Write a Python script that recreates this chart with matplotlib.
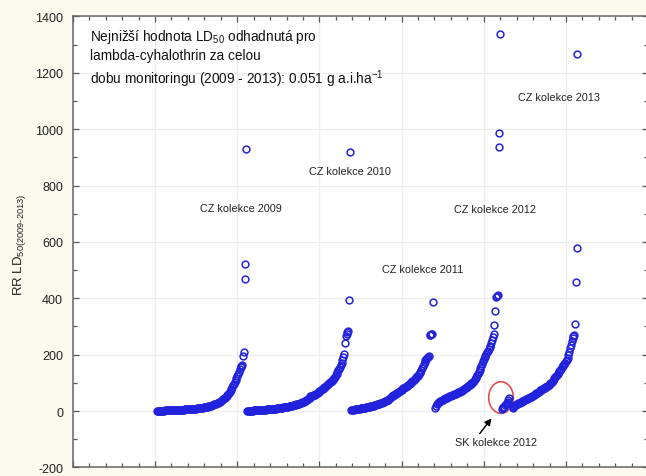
import matplotlib
matplotlib.use("Agg")
import matplotlib.pyplot as plt
import numpy as np
from matplotlib.patches import Ellipse
from matplotlib.ticker import MultipleLocator

plt.rcParams['font.family'] = ['Liberation Sans', 'DejaVu Sans']
plt.rcParams['mathtext.fontset'] = 'custom'
plt.rcParams['mathtext.rm'] = 'Liberation Sans'
plt.rcParams['mathtext.it'] = 'Liberation Sans:italic'
plt.rcParams['axes.unicode_minus'] = False

# poradi vzorku (prvni index kazde kolekce) a odhadnute hodnoty RR LD50
start_2009 = 102
rr_2009 = [0.5, 0.7, 0.9, 1.0, 1.2, 1.3, 1.5, 1.6, 1.8, 1.9,
           2.0, 2.2, 2.3, 2.5, 2.6, 2.8, 2.9, 3.0, 3.2, 3.3,
           3.5, 3.6, 3.8, 3.9, 4.1, 4.2, 4.4, 4.5, 4.7, 4.8,
           5.0, 5.1, 5.3, 5.4, 5.6, 5.7, 5.9, 6.0, 6.2, 6.3,
           6.5, 6.8, 7.0, 7.3, 7.5, 7.9, 8.2, 8.5, 8.9, 9.3,
           9.6, 10.1, 10.5, 11.0, 11.4, 11.9, 12.3, 12.8, 13.2, 13.8,
           14.2, 15.0, 15.8, 16.5, 17.3, 18.0, 19.1, 20.0, 21.2, 22.5,
           23.4, 24.6, 25.8, 27.0, 28.3, 30.0, 31.5, 33.0, 35.2, 37.5,
           40.0, 42.1, 44.5, 47.0, 50.2, 53.0, 56.5, 60.1, 64.0, 68.5,
           73.0, 79.0, 85.0, 92.0, 97.0, 104.0, 110.0, 116.0, 124.0, 131.0,
           140.0, 148.0, 155.0, 160.0, 162.0, 196.0, 208.0, 468.0, 520.0, 928.0]

start_2010 = 212
rr_2010 = [0.3, 0.6, 0.9, 1.1, 1.3, 1.5, 1.7, 1.9, 2.1, 2.3,
           2.5, 2.7, 2.9, 3.1, 3.3, 3.5, 3.7, 3.9, 4.1, 4.3,
           4.5, 4.7, 5.0, 5.3, 5.6, 5.8, 6.1, 6.4, 6.7, 7.0,
           7.3, 7.6, 7.9, 8.3, 8.6, 9.0, 9.4, 9.8, 10.2, 10.6,
           11.0, 11.4, 11.8, 12.2, 12.6, 13.0, 13.5, 14.0, 14.6, 15.2,
           15.8, 16.5, 17.2, 17.9, 18.6, 19.4, 20.1, 20.9, 21.8, 22.7,
           23.6, 24.5, 25.5, 26.5, 27.4, 28.5, 29.6, 30.8, 32.0, 33.4,
           35.0, 36.8, 38.5, 40.3, 42.0, 44.5, 47.5, 52.0, 54.0, 55.0,
           55.8, 56.5, 57.2, 58.0, 60.0, 62.5, 65.0, 67.8, 70.2, 72.5,
           74.8, 77.0, 79.5, 82.0, 84.5, 87.0, 89.5, 92.0, 95.0, 97.5,
           100.0, 102.0, 104.0, 107.0, 110.0, 114.0, 118.0, 122.0, 127.0, 132.0,
           138.0, 144.0, 150.0, 156.0, 162.0, 170.0, 180.0, 192.0, 203.0, 243.0,
           266.0, 274.0, 280.0, 284.0, 395.0, 918.0]

start_2011 = 339
rr_2011 = [2.5, 3.5, 4.5, 5.2, 5.8, 6.3, 6.8, 7.3, 7.8, 8.3,
           8.8, 9.3, 9.8, 10.3, 10.8, 11.3, 11.8, 12.4, 13.0, 13.6,
           14.2, 14.8, 15.5, 16.2, 17.0, 17.8, 18.6, 19.5, 20.5, 21.5,
           22.5, 23.5, 24.5, 25.5, 26.5, 27.6, 28.7, 29.8, 31.0, 32.2,
           33.5, 34.8, 36.0, 37.5, 39.0, 40.5, 42.0, 45.0, 50.0, 53.0,
           54.0, 56.0, 57.5, 59.0, 61.0, 63.0, 65.0, 67.0, 69.0, 71.5,
           74.0, 76.0, 78.0, 80.0, 82.0, 84.0, 86.0, 88.0, 90.0, 92.0,
           94.5, 97.0, 99.5, 102.0, 105.0, 108.0, 111.0, 114.0, 117.0, 120.0,
           123.0, 126.0, 130.0, 134.0, 139.0, 145.0, 152.0, 160.0, 168.0, 175.0,
           180.0, 184.0, 188.0, 192.0, 195.0, 268.0, 270.0, 272.0, 274.0, 388.0]

start_2012 = 441
rr_2012 = [12.0, 18.0, 24.0, 28.0, 31.0, 33.5, 35.5, 37.0, 38.5, 40.0,
           41.5, 43.0, 44.5, 46.0, 47.5, 49.0, 50.5, 52.0, 53.5, 55.0,
           56.0, 57.5, 58.5, 59.5, 61.0, 62.0, 63.5, 64.5, 66.0, 67.5,
           69.0, 70.5, 72.0, 74.0, 76.0, 78.0, 80.0, 82.0, 84.5, 87.0,
           89.0, 91.0, 93.0, 95.5, 98.0, 100.0, 103.0, 106.0, 112.0, 118.0,
           122.0, 127.0, 132.0, 138.0, 145.0, 152.0, 160.0, 168.0, 176.0, 184.0,
           190.0, 196.0, 202.0, 208.0, 214.0, 220.0, 226.0, 231.0, 240.0, 252.0,
           262.0, 275.0, 306.0, 356.0, 404.0, 408.0, 410.0, 937.0, 987.0, 1338.0]

start_sk2012 = 522
rr_sk2012 = [8.0, 10.0, 13.0, 16.0, 20.0, 24.0, 28.0, 33.0, 40.0, 48.0]

start_2013 = 535
rr_2013 = [12.0, 16.0, 19.0, 21.0, 23.0, 24.5, 26.0, 27.0, 28.0, 29.0,
           30.5, 32.0, 34.0, 36.0, 38.0, 39.5, 41.0, 42.5, 44.0, 45.5,
           47.0, 48.5, 50.0, 51.5, 53.0, 55.0, 57.0, 59.0, 61.0, 63.0,
           65.0, 67.0, 69.0, 71.0, 73.0, 75.0, 77.0, 79.0, 81.0, 83.0,
           85.0, 87.0, 88.5, 90.0, 92.0, 95.0, 98.0, 101.0, 104.0, 108.0,
           112.0, 116.0, 120.0, 124.0, 128.0, 133.0, 138.0, 142.0, 146.0, 150.0,
           155.0, 160.0, 164.0, 168.0, 172.0, 176.0, 180.0, 188.0, 198.0, 208.0,
           222.0, 236.0, 248.0, 258.0, 265.0, 270.0, 308.0, 457.0, 579.0, 1265.0]

series = [(start_2009, rr_2009), (start_2010, rr_2010), (start_2011, rr_2011),
          (start_2012, rr_2012), (start_sk2012, rr_sk2012), (start_2013, rr_2013)]

labels = ["CZ kolekce 2009", "CZ kolekce 2010", "CZ kolekce 2011",
          "CZ kolekce 2012", "CZ kolekce 2013"]
label_x = [205, 337, 426, 513, 591]
label_y = [722, 852, 505, 716, 1113]

fig = plt.figure(figsize=(6.46, 4.77), dpi=100, facecolor='#fcf9ef')
ax = fig.add_axes([0.1128, 0.018, 0.8905, 0.9455])
ax.set_facecolor('white')

for start, vals in series:
    x = np.arange(start, start + len(vals))
    ax.plot(x, vals, linestyle='none', marker='o', markersize=4.9,
            markerfacecolor='none', markeredgecolor='#2222dc', markeredgewidth=1.1)

ax.set_xlim(0, 700)
ax.set_ylim(-200, 1400)
ax.xaxis.set_major_locator(MultipleLocator(100))
ax.xaxis.set_minor_locator(MultipleLocator(20))
ax.yaxis.set_major_locator(MultipleLocator(200))
ax.yaxis.set_minor_locator(MultipleLocator(100))
ax.tick_params(which='both', direction='in', top=True, right=True,
               color='#555555', width=0.9)
ax.tick_params(which='major', length=4, labelsize=9, labelcolor='#222222', pad=7)
ax.tick_params(which='minor', length=3)
ax.tick_params(axis='x', labelbottom=False)
ax.grid(True, which='major', color='#ededed', linewidth=0.9)
ax.set_axisbelow(True)
for sp in ax.spines.values():
    sp.set_color('#666666')
    sp.set_linewidth(1.1)

fig.text(19 / 646, 0.486, r"RR LD$_{50(2009\text{-}2013)}$", rotation=90,
         ha='center', va='center', fontsize=9.5, color='#222222')

fig.text(90 / 646, 1 - 28 / 477,
         "Nejnižší hodnota LD$_{50}$ odhadnutá pro\nlambda-cyhalothrin za celou\n"
         "dobu monitoringu (2009 - 2013): 0.051 g a.i.ha$^{-1}$",
         ha='left', va='top', fontsize=9.8, linespacing=1.3, color='#111111')

for txt, lx, ly in zip(labels, label_x, label_y):
    ax.text(lx, ly, txt, ha='center', va='center', fontsize=7.8, color='#222222')

ax.text(515, -110, "SK kolekce 2012", ha='center', va='center', fontsize=7.8,
        color='#222222')
ax.add_patch(Ellipse((521, 48), 30, 112, fill=False, edgecolor='#e05050',
                     linewidth=1.2))
ax.annotate("", xy=(511.5, -18), xytext=(493, -88),
            arrowprops=dict(arrowstyle='-|>', color='black', lw=1.0,
                            mutation_scale=10))

fig.savefig("out.png", dpi=100, facecolor=fig.get_facecolor())
